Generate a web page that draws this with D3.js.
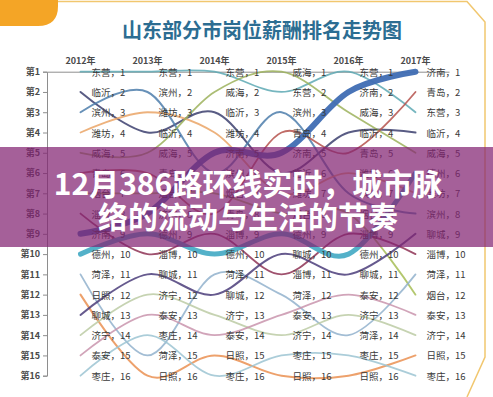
<!DOCTYPE html>
<html>
<head>
<meta charset="utf-8">
<script src="https://cdn.jsdelivr.net/npm/d3@7"></script>
<style>
  body { margin: 0; background: #fff; }
  svg { display: block; font-family: "Noto Sans CJK SC", "Noto Sans", sans-serif; }
</style>
</head>
<body>
<div class="chart"></div>
<script>
// years on the top axis
var years = ["2012年", "2013年", "2014年", "2015年", "2016年", "2017年"];
var rankTicks = d3.range(1, 17);

// rank of each city per year (2012..2017)
var dongying = [1, 1, 1, 2, 1, 3];
var linyi    = [2, 4, 3, 6, 4, 4];
var binzhou  = [3, 2, 6, 3, 7, 8];
var weifang  = [4, 3, 4, 7, 6, 7];
var weihai   = [5, 5, 2, 1, 3, 5];
var qingdao  = [6, 6, 8, 4, 5, 2];
var yantai   = [7, 7, 7, 8, 8, 12];
var zibo     = [8, 10, 9, 11, 9, 10];
var jinan    = [9, 8, 5, 5, 2, 1];
var dezhou   = [10, 9, 10, 9, 10, 6];
var heze     = [11, 15, 11, 12, 14, 11];
var rizhao   = [12, 16, 15, 16, 16, 15];
var liaocheng= [13, 11, 12, 10, 11, 9];
var jining   = [14, 12, 13, 14, 13, 14];
var taian    = [15, 13, 14, 13, 12, 13];
var zaozhuang= [16, 14, 16, 15, 15, 16];

var cities = ["东营", "临沂", "滨州", "潍坊", "威海", "青岛", "烟台", "淄博",
              "济南", "德州", "菏泽", "日照", "聊城", "济宁", "泰安", "枣庄"];
var series = [dongying, linyi, binzhou, weifang, weihai, qingdao, yantai, zibo,
              jinan, dezhou, heze, rizhao, liaocheng, jining, taian, zaozhuang];

var colors = ["#5ea9b4", "#3c3f6e", "#4d7eac", "#eaa466", "#9cb25c", "#b5524c", "#a6bd55", "#8e3355",
              "#3f6db3", "#4badc6", "#92b2cc", "#ea9152", "#4b3d7a", "#bccba4", "#c994ad", "#9cc4d2"];
var widths = [1.8, 2, 2, 1.8, 1.8, 1.8, 1.8, 1.8, 6, 5, 1.8, 2, 2, 1.8, 1.8, 1.8];

var width = 493, height = 397;

var svg = d3.select(".chart")
  .append("svg")
  .attr("width", width)
  .attr("height", height);

// frame: orange corner + golden border
svg.append("path")
  .attr("d", "M0,0 L58,0 L58,6 Q58,26 38,26 L0,26 Z")
  .attr("fill", "#f4a526");
svg.append("path")
  .attr("d", "M58,1.5 L467,1.5 L485,22 L485,357 L467,397")
  .attr("fill", "none")
  .attr("stroke", "#f1c76f")
  .attr("stroke-width", 1.5);

svg.append("text")
  .attr("x", 262)
  .attr("y", 29)
  .attr("text-anchor", "middle")
  .attr("dominant-baseline", "central")
  .attr("font-size", 20)
  .attr("font-weight", "bold")
  .attr("fill", "#2c6d92")
  .text("山东部分市岗位薪酬排名走势图");

// scales
var xScale = d3.scaleBand()
  .domain(years)
  .range([47, 449]);

var yScale = d3.scaleLinear()
  .domain([1, 16])
  .range([71.7, 375.7]);

function px(i) { return xScale(years[i]) + xScale.bandwidth() / 2; }

// axes
var xAxis = svg.append("g")
  .attr("transform", "translate(0," + yScale(1) + ")")
  .call(d3.axisTop(xScale).tickSize(0).tickPadding(8));
var yAxis = svg.append("g")
  .attr("transform", "translate(47,0)")
  .call(d3.axisLeft(yScale).tickValues(rankTicks).tickSize(4).tickPadding(3)
        .tickFormat(function(d) { return "第" + d; }));

svg.selectAll(".domain, .tick line").attr("stroke", "#8e8e8e");
svg.selectAll(".tick text")
  .attr("font-size", 9)
  .attr("font-weight", "bold")
  .attr("fill", "#4a4a4a")
  .style("font-family", "'Noto Sans CJK SC', sans-serif");

// lines
var line = d3.line()
  .x(function(d, i) { return px(i); })
  .y(function(d) { return yScale(d); })
  .curve(d3.curveCatmullRom.alpha(0));

var order = d3.range(cities.length).filter(function(i) { return widths[i] < 4; }).concat([9, 8]);

svg.append("g").selectAll("path")
  .data(order)
  .enter()
  .append("path")
  .attr("d", function(i) { return line(series[i]); })
  .attr("fill", "none")
  .attr("stroke", function(i) { return colors[i]; })
  .attr("stroke-width", function(i) { return widths[i]; })
  .attr("stroke-linecap", "round")
  .attr("stroke-opacity", function(i) { return widths[i] < 4 ? 0.85 : 0.95; });

// data labels "city，rank"
var labels = [];
cities.forEach(function(c, ci) {
  series[ci].forEach(function(r, yi) {
    labels.push({ city: c, rank: r, year: yi });
  });
});

svg.append("g").selectAll("text")
  .data(labels)
  .enter()
  .append("text")
  .attr("x", function(d) { return px(d.year) + 11; })
  .attr("y", function(d) { return yScale(d.rank); })
  .attr("dominant-baseline", "central")
  .attr("font-size", 9.5)
  .attr("fill", "#3a3a3a")
  .text(function(d) { return d.city + "，" + d.rank; });

// headline band over the chart
svg.append("rect")
  .attr("x", 0)
  .attr("y", 147)
  .attr("width", width)
  .attr("height", 100)
  .attr("fill", "rgba(130,34,114,0.72)");

var headline = ["12月386路环线实时，城市脉", "络的流动与生活的节奏"];
svg.append("g").selectAll("text")
  .data(headline)
  .enter()
  .append("text")
  .attr("x", 248)
  .attr("y", function(d, i) { return 182 + i * 33; })
  .attr("text-anchor", "middle")
  .attr("dominant-baseline", "central")
  .attr("font-size", 30)
  .attr("font-weight", "bold")
  .attr("fill", "#ffffff")
  .text(function(d) { return d; });
</script>
</body>
</html>
